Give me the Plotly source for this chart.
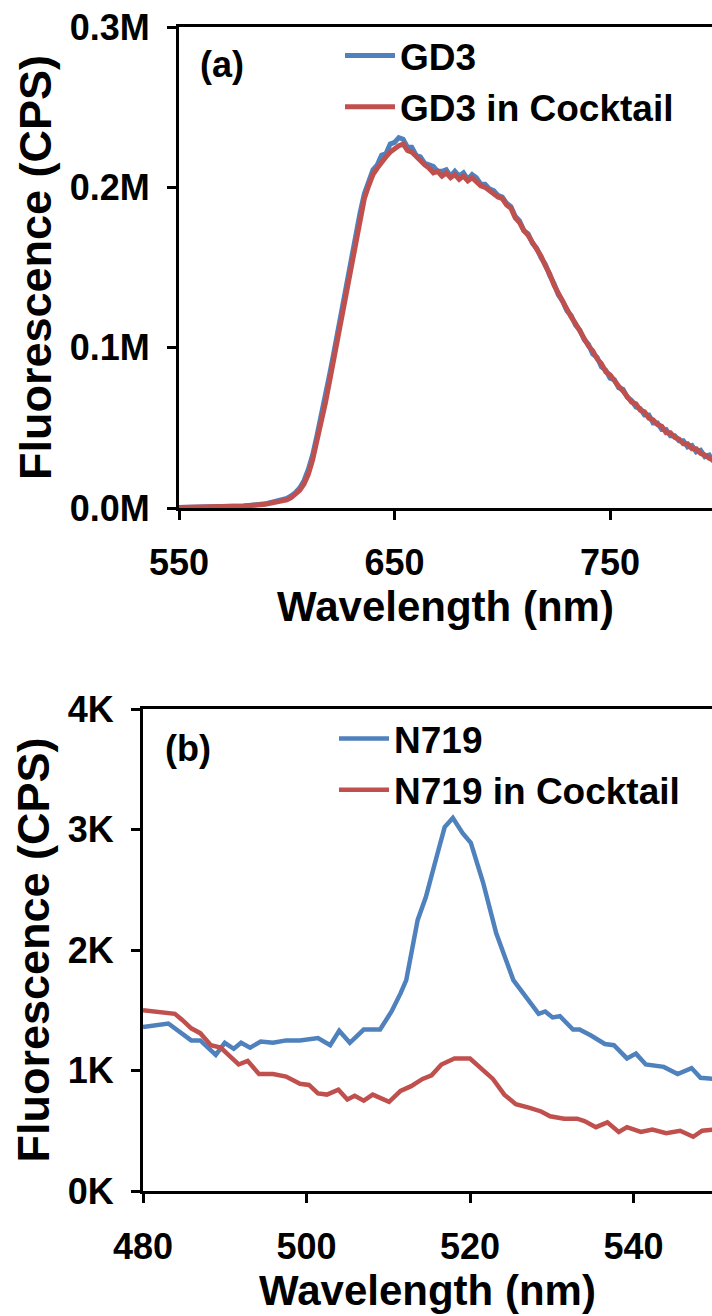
import plotly.graph_objects as go

# ---------------- data ----------------
# (a) GD3 emission, wavelength (nm) and fluorescence in thousands of CPS
wl_a = [550, 560, 570, 580, 590, 596,
        600, 602, 604, 606, 608, 610, 612, 614, 616, 618,
        620, 622, 624, 626, 628, 630, 632, 634, 636, 638,
        640, 642, 644, 646, 648, 650, 652, 654, 656, 658,
        660, 662, 664, 666, 668, 670, 672, 674, 676, 678,
        680, 682, 684, 686, 688, 690, 692, 694, 696, 698,
        700, 702, 704, 706, 708, 710, 712, 714, 716, 718,
        720, 722, 724, 726, 728, 730, 732, 734, 736, 738,
        740, 742, 744, 746, 748, 750, 752, 754, 756, 758,
        760, 762, 764, 766, 768, 770, 772, 774, 776, 778,
        780, 782, 784, 786, 788, 790, 792, 794, 796, 798]
gd3_k = [0.3, 0.5, 0.8, 1.3, 2.6, 4.5,
         6, 7.5, 9.5, 12.5, 17, 24, 33, 45, 57, 70,
         84, 98, 113, 128, 143, 157, 172, 184, 196, 204,
         211, 214, 220, 221, 227, 228, 231, 230, 225, 225,
         220, 219, 215, 214, 213, 210, 210, 211, 207, 210,
         207, 209, 205, 208, 206, 202, 202, 199, 198, 195,
         194, 190, 188, 182, 179, 173, 171, 165, 162, 156,
         152, 145, 140, 133, 129, 123, 120, 114, 111, 105,
         102, 96, 94, 88, 86, 81, 80, 75, 74, 69,
         67, 63, 62, 58, 58, 53, 53, 49, 49, 45,
         45, 42, 42, 38, 39, 35, 36, 32, 33, 29]
gd3_cocktail_k = [0.3, 0.5, 0.8, 1.2, 2.3, 4,
                  5, 6.5, 8.5, 11, 15, 21, 30, 41, 53, 66,
                  80, 94, 109, 124, 139, 154, 168, 181, 193, 201,
                  208, 212, 216, 219, 222, 224, 226, 227, 223, 222,
                  219, 216, 214, 212, 209, 210, 207, 209, 206, 208,
                  205, 207, 204, 206, 203, 201, 200, 198, 196, 194,
                  193, 189, 187, 181, 178, 173, 170, 166, 161, 157,
                  151, 146, 139, 134, 128, 124, 119, 115, 110, 106,
                  101, 98, 93, 90, 85, 83, 79, 76, 73, 70,
                  66, 65, 61, 60, 56, 55, 52, 51, 47, 47,
                  44, 43, 40, 40, 37, 37, 34, 33, 31, 30]

# (b) N719 emission, wavelength (nm) and fluorescence in thousands of CPS
wl_n719 = [480, 483.1, 485.9, 487, 488.9, 490, 491.1, 492, 493.1, 494.4,
           495.9, 497.5, 499.2, 501.4, 502.9, 504, 505.3, 507, 509, 510.4,
           511.5, 512.2, 513.6, 514.6, 515.9, 516.9, 517.9, 519.1, 520.1, 521.6,
           523.2, 525.3, 528.4, 529.2, 530.1, 531, 532.6, 533.4, 534.8, 536.5,
           537.6, 539.2, 540.3, 541.5, 543.7, 545.4, 547.1, 548.2, 549.7]
n719_k = [1.36, 1.39, 1.25, 1.25, 1.13, 1.23, 1.18, 1.23, 1.19, 1.24,
          1.23, 1.25, 1.25, 1.27, 1.21, 1.33, 1.23, 1.34, 1.34, 1.49,
          1.64, 1.75, 2.25, 2.44, 2.77, 3.02, 3.095, 2.97, 2.89, 2.56,
          2.14, 1.75, 1.47, 1.49, 1.44, 1.45, 1.34, 1.34, 1.29, 1.22,
          1.21, 1.10, 1.14, 1.05, 1.03, 0.97, 1.02, 0.94, 0.93]
wl_n719_cocktail = [480, 482, 483.9, 484.8, 485.9, 487, 488.3, 489.5, 490.6, 491.7,
                    492.8, 494.2, 495.9, 497.5, 499.2, 500.3, 501.4, 502.5, 503.9, 505,
                    505.9, 507, 508.1, 510.1, 511.5, 512.8, 514.2, 515.3, 516.5, 518.1,
                    520, 521.5, 522.8, 524.2, 525.6, 527.3, 528.7, 529.8, 531.5, 533.1,
                    534, 535.4, 536.8, 538.2, 539.2, 540.9, 542.3, 544, 545.7, 547.3,
                    548.4, 549.7]
n719_cocktail_k = [1.50, 1.48, 1.47, 1.42, 1.35, 1.31, 1.21, 1.19, 1.12, 1.05,
                   1.08, 0.97, 0.97, 0.95, 0.89, 0.88, 0.81, 0.80, 0.84, 0.76,
                   0.79, 0.75, 0.80, 0.74, 0.83, 0.87, 0.93, 0.96, 1.05, 1.10,
                   1.10, 1.01, 0.93, 0.80, 0.72, 0.69, 0.66, 0.62, 0.60, 0.60,
                   0.58, 0.53, 0.57, 0.49, 0.53, 0.49, 0.51, 0.48, 0.50, 0.45,
                   0.50, 0.51]

# tick labels
xticks_a = [550, 650, 750]
yticks_a = [0, 100000, 200000, 300000]
yticktext_a = ["0.0M", "0.1M", "0.2M", "0.3M"]
xticks_b = [480, 500, 520, 540]
yticks_b = [0, 1000, 2000, 3000, 4000]
yticktext_b = ["0K", "1K", "2K", "3K", "4K"]

names_a = ["GD3", "GD3 in Cocktail"]
names_b = ["N719", "N719 in Cocktail"]

# ---------------- style ----------------
BLUE = "#4F81BD"
RED = "#C0504D"
FONT = "Liberation Sans, Arial, sans-serif"
W, H = 712, 1316

fig = go.Figure()

fig.add_trace(go.Scatter(x=wl_a, y=[v * 1000 for v in gd3_k], mode="lines",
                         name=names_a[0], line=dict(color=BLUE, width=5),
                         xaxis="x", yaxis="y", legend="legend"))
fig.add_trace(go.Scatter(x=wl_a, y=[v * 1000 for v in gd3_cocktail_k], mode="lines",
                         name=names_a[1], line=dict(color=RED, width=5),
                         xaxis="x", yaxis="y", legend="legend"))
fig.add_trace(go.Scatter(x=wl_n719, y=[v * 1000 for v in n719_k], mode="lines",
                         name=names_b[0], line=dict(color=BLUE, width=4.5),
                         xaxis="x2", yaxis="y2", legend="legend2"))
fig.add_trace(go.Scatter(x=wl_n719_cocktail, y=[v * 1000 for v in n719_cocktail_k],
                         mode="lines", name=names_b[1],
                         line=dict(color=RED, width=4.5),
                         xaxis="x2", yaxis="y2", legend="legend2"))

tickfont = dict(family=FONT, size=36, color="black", weight="bold")
xtitlefont = dict(family=FONT, size=42, color="black", weight="bold")
ytitlefont = dict(family=FONT, size=45, color="black", weight="bold")

axis_common = dict(showgrid=False, zeroline=False, showline=True, linecolor="black",
                   linewidth=3, ticks="outside", ticklen=9, tickwidth=3,
                   tickcolor="black", tickfont=tickfont, automargin=False)

top_dom_y = [1 - 508 / H, 1 - 27 / H]
bot_dom_y = [1 - 1191 / H, 1 - 709 / H]

fig.update_layout(
    width=W, height=H,
    margin=dict(l=0, r=0, t=0, b=0, autoexpand=False),
    paper_bgcolor="white", plot_bgcolor="white",
    font=dict(family=FONT, color="black"),
    xaxis=dict(axis_common, domain=[179 / W, 1], range=[550, 797.3],
               tickvals=xticks_a, mirror=True, anchor="y", ticklabelstandoff=12,
               title=dict(text="Wavelength (nm)", font=xtitlefont, standoff=8)),
    yaxis=dict(axis_common, domain=top_dom_y, range=[0, 300000], anchor="x",
               tickvals=yticks_a, ticktext=yticktext_a, ticklabelstandoff=10,
               title=dict(text="Fluorescence (CPS)", font=ytitlefont, standoff=5)),
    xaxis2=dict(axis_common, domain=[143 / W, 1], range=[480, 549.6],
                tickvals=xticks_b, mirror=True, anchor="y2", ticklabelstandoff=13,
                title=dict(text="Wavelength (nm)", font=xtitlefont, standoff=8)),
    yaxis2=dict(axis_common, domain=bot_dom_y, range=[0, 4000], anchor="x2",
                tickvals=yticks_b, ticktext=yticktext_b, ticklabelstandoff=10,
                title=dict(text="Fluorescence (CPS)", font=ytitlefont, standoff=5)),
    legend=dict(x=340 / W, y=1 - 25 / H, xanchor="left", yanchor="top",
                bgcolor="rgba(0,0,0,0)", borderwidth=0, itemwidth=50,
                font=dict(family=FONT, size=37, color="black", weight="bold"),
                tracegroupgap=0),
    legend2=dict(x=334 / W, y=1 - 708 / H, xanchor="left", yanchor="top",
                 bgcolor="rgba(0,0,0,0)", borderwidth=0, itemwidth=50,
                 font=dict(family=FONT, size=37, color="black", weight="bold"),
                 tracegroupgap=0),
    showlegend=True,
    annotations=[
        dict(text="(a)", x=222 / W, y=1 - 64 / H, xref="paper", yref="paper",
             showarrow=False, xanchor="center", yanchor="middle",
             font=dict(family=FONT, size=36, color="black", weight="bold")),
        dict(text="(b)", x=188 / W, y=1 - 748 / H, xref="paper", yref="paper",
             showarrow=False, xanchor="center", yanchor="middle",
             font=dict(family=FONT, size=36, color="black", weight="bold")),
    ],
)

fig.write_html("out.html", config={"displayModeBar": False},
               post_script="document.body.style.margin='0';"
                           "document.body.style.overflow='hidden';")
